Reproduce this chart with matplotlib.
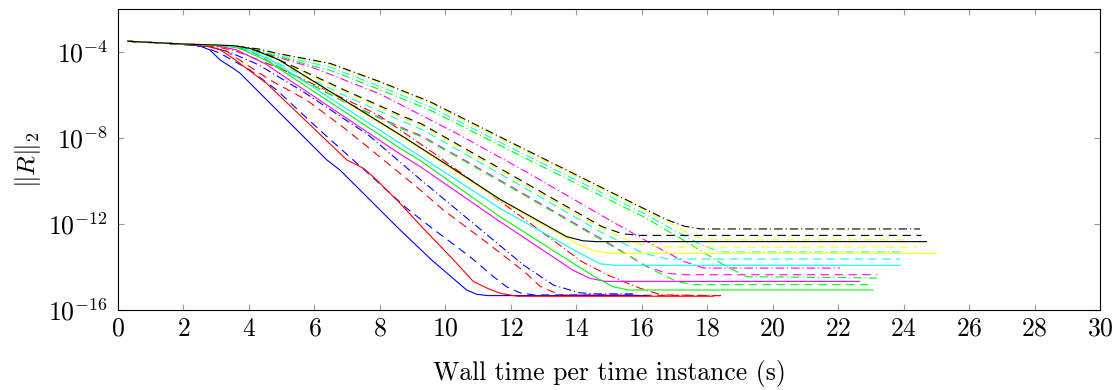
import numpy as np
import matplotlib
matplotlib.use("Agg")
import matplotlib.pyplot as plt
from matplotlib.ticker import FixedLocator, NullLocator, LogFormatterSciNotation

# ---------------- data (x = wall time [s], y = log10 of residual norm) ----------------
blue_solid_x = [0.3, 2.0, 2.5, 2.8, 3.12, 3.52, 3.73, 6.38, 6.78, 8.62, 9.58, 9.94, 10.65, 10.96, 11.3, 16.2]
blue_solid_y = [-3.5, -3.63, -3.72, -3.9, -4.37, -4.76, -4.99, -9.02, -9.49, -12.28, -13.67, -14.14, -15.07, -15.27, -15.33, -15.33]
red_solid_x = [0.3, 2.0, 2.7, 3.12, 3.52, 4.54, 6.99, 7.5, 7.9, 8.62, 9.23, 10.25, 10.86, 11.3, 11.67, 12.2, 18.2]
red_solid_y = [-3.5, -3.63, -3.72, -3.9, -4.3, -5.46, -9.02, -9.41, -9.95, -11.04, -12.05, -13.67, -14.68, -15.0, -15.22, -15.36, -15.36]
magenta_solid_x = [0.3, 2.0, 3.0, 3.62, 4.5, 8.62, 9.23, 11.67, 13.9, 14.42, 14.9, 22.65]
magenta_solid_y = [-3.5, -3.63, -3.7, -3.9, -4.55, -8.75, -9.33, -11.89, -14.15, -14.53, -14.67, -14.67]
green_solid_x = [0.3, 2.0, 3.2, 3.73, 4.6, 8.62, 9.23, 11.67, 14.5, 15.13, 15.6, 23.06]
green_solid_y = [-3.5, -3.63, -3.7, -3.83, -4.45, -8.48, -9.05, -11.66, -14.4, -14.92, -15.07, -15.07]
cyan_solid_x = [0.3, 2.0, 3.3, 3.8, 4.7, 8.62, 9.23, 11.67, 14.11, 14.73, 15.2, 23.9]
cyan_solid_y = [-3.5, -3.63, -3.7, -3.8, -4.4, -8.25, -8.85, -11.27, -13.36, -13.85, -13.92, -13.92]
yellow_solid_x = [0.3, 2.0, 3.5, 4.0, 4.9, 8.62, 10.14, 11.67, 13.7, 14.1, 14.6, 15.1, 25.0]
yellow_solid_y = [-3.5, -3.63, -3.7, -3.83, -4.37, -7.9, -9.38, -10.9, -12.65, -12.98, -13.27, -13.36, -13.36]
black_solid_x = [0.3, 2.0, 3.5, 4.03, 4.9, 8.62, 10.14, 11.67, 13.71, 14.2, 14.6, 24.7]
black_solid_y = [-3.5, -3.63, -3.7, -3.83, -4.35, -7.85, -9.33, -10.85, -12.59, -12.78, -12.82, -12.82]

blue_dashed_x = [0.3, 2.0, 2.6, 3.12, 4.03, 4.85, 5.56, 6.27, 7.7, 8.82, 9.53, 10.75, 11.47, 11.87, 12.28, 12.7, 15.9]
blue_dashed_y = [-3.5, -3.65, -3.75, -4.06, -4.84, -5.77, -6.78, -7.78, -9.72, -11.27, -12.12, -13.52, -14.45, -14.92, -15.2, -15.3, -15.3]
red_dashed_x = [0.3, 2.0, 2.8, 3.3, 4.64, 5.76, 6.58, 6.99, 9.12, 9.94, 11.16, 12.4, 12.9, 13.5, 18.5]
red_dashed_y = [-3.5, -3.65, -3.75, -3.95, -5.3, -6.23, -7.16, -7.63, -10.27, -11.35, -12.74, -14.2, -14.9, -15.3, -15.33]
magenta_dashed_x = [0.3, 2.0, 3.4, 4.1, 5.26, 6.89, 8.72, 9.28, 12.0, 14.78, 16.15, 16.76, 17.3, 23.2]
magenta_dashed_y = [-3.5, -3.65, -3.72, -4.0, -5.0, -6.3, -7.55, -7.9, -10.25, -12.7, -13.98, -14.29, -14.36, -14.36]
green_dashed_x = [0.3, 2.0, 3.4, 4.1, 5.26, 6.89, 8.72, 9.28, 12.0, 14.78, 16.3, 17.07, 17.6, 23.1]
green_dashed_y = [-3.5, -3.65, -3.72, -4.0, -5.0, -6.3, -7.6, -7.95, -10.3, -12.75, -14.1, -14.68, -14.82, -14.82]
cyan_dashed_x = [0.3, 2.0, 3.5, 4.2, 5.26, 6.89, 8.72, 9.28, 12.0, 14.78, 16.05, 16.8, 23.9]
cyan_dashed_y = [-3.5, -3.65, -3.72, -4.0, -4.8, -6.0, -7.25, -7.6, -9.95, -12.4, -13.36, -13.63, -13.63]
yellow_dashed_x = [0.3, 2.0, 3.5, 4.3, 5.26, 6.89, 8.72, 9.28, 12.0, 14.78, 15.8, 16.5, 24.4]
yellow_dashed_y = [-3.5, -3.65, -3.72, -3.98, -4.65, -5.82, -7.08, -7.43, -9.8, -12.22, -12.9, -13.07, -13.07]
black_dashed_x = [0.3, 2.0, 3.5, 4.3, 5.26, 6.89, 8.72, 9.28, 12.0, 14.78, 15.4, 15.9, 24.55]
black_dashed_y = [-3.5, -3.65, -3.72, -3.95, -4.6, -5.75, -7.0, -7.35, -9.7, -12.12, -12.45, -12.53, -12.53]

blue_dashdot_x = [0.3, 2.0, 2.8, 3.4, 4.3, 5.66, 7.65, 9.23, 12.38, 13.3, 14.1, 14.6, 15.8]
blue_dashdot_y = [-3.5, -3.65, -3.75, -4.0, -4.6, -5.85, -7.86, -9.92, -13.9, -14.84, -15.2, -15.25, -15.25]
red_dashdot_x = [0.3, 2.0, 3.0, 3.6, 5.0, 7.6, 8.0, 9.58, 12.0, 14.17, 15.0, 15.95, 16.6, 18.4]
red_dashdot_y = [-3.5, -3.65, -3.75, -3.95, -4.8, -6.67, -6.98, -8.63, -11.3, -13.75, -14.4, -14.99, -15.3, -15.33]
magenta_dashdot_x = [0.3, 2.0, 3.5, 4.0, 6.0, 8.0, 10.4, 12.5, 14.93, 16.5, 17.3, 17.9, 22.06]
magenta_dashdot_y = [-3.5, -3.63, -3.72, -3.85, -4.75, -5.95, -7.83, -9.6, -11.74, -13.1, -13.75, -14.05, -14.05]
green_dashdot_x = [0.3, 2.0, 3.6, 4.3, 4.85, 6.48, 8.0, 9.53, 12.0, 16.05, 17.5, 18.5, 19.2, 23.2]
green_dashdot_y = [-3.5, -3.63, -3.72, -3.92, -4.2, -4.85, -5.75, -6.7, -8.6, -11.66, -12.95, -13.9, -14.45, -14.51]
cyan_dashdot_x = [0.3, 2.0, 3.6, 4.3, 4.85, 6.48, 8.0, 9.53, 12.0, 16.05, 17.0, 17.8, 18.4, 23.95]
cyan_dashdot_y = [-3.5, -3.63, -3.72, -3.9, -4.15, -4.7, -5.6, -6.55, -8.45, -11.5, -12.3, -12.95, -13.3, -13.3]
yellow_dashdot_x = [0.3, 2.0, 3.6, 4.34, 4.85, 6.48, 8.0, 9.53, 12.0, 16.05, 16.9, 17.5, 18.0, 24.0]
yellow_dashdot_y = [-3.5, -3.63, -3.72, -3.9, -4.1, -4.58, -5.43, -6.38, -8.27, -11.35, -12.0, -12.5, -12.74, -12.74]
black_dashdot_x = [0.3, 2.0, 3.6, 4.34, 4.85, 6.48, 8.0, 9.53, 12.0, 16.05, 16.76, 17.3, 17.8, 24.5]
black_dashdot_y = [-3.5, -3.63, -3.72, -3.87, -4.06, -4.53, -5.38, -6.31, -8.2, -11.27, -11.8, -12.1, -12.23, -12.23]

x_ticks = [0, 2, 4, 6, 8, 10, 12, 14, 16, 18, 20, 22, 24, 26, 28, 30]
y_ticks = [1e-16, 1e-12, 1e-8, 1e-4]

# ---------------- style ----------------
plt.rcParams['font.family'] = 'serif'
plt.rcParams['font.serif'] = ['cmr10', 'DejaVu Serif']
plt.rcParams['mathtext.fontset'] = 'cm'
plt.rcParams['axes.formatter.use_mathtext'] = True
plt.rcParams['lines.scale_dashes'] = False

FS = 18.5
DASHED = (0, (6.0, 4.0))
DASHDOT = (0, (6.0, 2.2, 0.8, 2.2))

series = [
    (blue_dashdot_x, blue_dashdot_y, 'blue', DASHDOT),
    (red_dashdot_x, red_dashdot_y, 'red', DASHDOT),
    (magenta_dashdot_x, magenta_dashdot_y, 'magenta', DASHDOT),
    (green_dashdot_x, green_dashdot_y, 'lime', DASHDOT),
    (cyan_dashdot_x, cyan_dashdot_y, 'cyan', DASHDOT),
    (yellow_dashdot_x, yellow_dashdot_y, 'yellow', DASHDOT),
    (black_dashdot_x, black_dashdot_y, 'black', DASHDOT),
    (blue_dashed_x, blue_dashed_y, 'blue', DASHED),
    (red_dashed_x, red_dashed_y, 'red', DASHED),
    (magenta_dashed_x, magenta_dashed_y, 'magenta', DASHED),
    (green_dashed_x, green_dashed_y, 'lime', DASHED),
    (cyan_dashed_x, cyan_dashed_y, 'cyan', DASHED),
    (yellow_dashed_x, yellow_dashed_y, 'yellow', DASHED),
    (black_dashed_x, black_dashed_y, 'black', DASHED),
    (blue_solid_x, blue_solid_y, 'blue', '-'),
    (red_solid_x, red_solid_y, 'red', '-'),
    (magenta_solid_x, magenta_solid_y, 'magenta', '-'),
    (green_solid_x, green_solid_y, 'lime', '-'),
    (cyan_solid_x, cyan_solid_y, 'cyan', '-'),
    (yellow_solid_x, yellow_solid_y, 'yellow', '-'),
    (black_solid_x, black_solid_y, 'black', '-'),
]

fig = plt.figure(figsize=(11.17, 3.90), dpi=100)
ax = fig.add_axes([118 / 1117, 1 - 310 / 390, (1100 - 118) / 1117, (310 - 9) / 390])

for xs, ys, color, ls in series:
    ax.plot(xs, 10.0 ** np.asarray(ys), color=color, linestyle=ls, linewidth=0.8)

ax.set_yscale('log')
ax.set_xlim(0, 30)
ax.set_ylim(1e-16, 1e-2)
ax.xaxis.set_major_locator(FixedLocator(x_ticks))
ax.yaxis.set_major_locator(FixedLocator(y_ticks))
ax.yaxis.set_major_formatter(LogFormatterSciNotation())
ax.yaxis.set_minor_locator(NullLocator())
ax.xaxis.set_minor_locator(NullLocator())

ax.tick_params(axis='both', which='major', direction='in', length=4, width=0.8,
               color='#9a9a9a', labelsize=FS, top=True, right=True)
ax.tick_params(axis='x', pad=5)
ax.tick_params(axis='y', pad=7)
for sp in ax.spines.values():
    sp.set_linewidth(0.8)
    sp.set_color('black')

ax.set_xlabel('Wall time per time instance (s)', fontsize=FS, labelpad=14)
ax.set_ylabel(r'$\Vert R\Vert_2$', fontsize=FS, labelpad=4)

fig.savefig('out.png', dpi=100)
